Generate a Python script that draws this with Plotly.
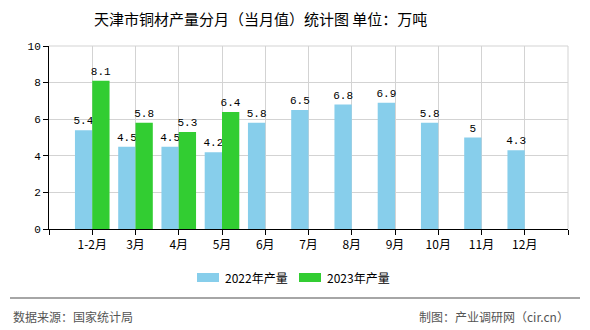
import plotly.graph_objects as go

categories = ["1-2月", "3月", "4月", "5月", "6月", "7月", "8月", "9月", "10月", "11月", "12月"]
values_2022 = [5.4, 4.5, 4.5, 4.2, 5.8, 6.5, 6.8, 6.9, 5.8, 5, 4.3]
values_2023 = [8.1, 5.8, 5.3, 6.4, None, None, None, None, None, None, None]
series_names = ["2022年产量", "2023年产量"]
colors = ["#87CEEB", "#32CD32"]
title_text = "天津市铜材产量分月（当月值）统计图 单位：万吨"
source_text = "数据来源：国家统计局"
credit_text = "制图：产业调研网（cir.cn）"

W, H = 590, 330
L, R, T, B = 49, 22, 46, 101
PW, PH = W - L - R, H - T - B


def px(x):
    return (x - L) / PW


def py(y):
    return (H - B - y) / PH


xs = list(range(len(categories)))
cjk = "Noto Sans CJK SC"
mono = "Liberation Mono, DejaVu Sans Mono, monospace"

fig = go.Figure()
for name, vals, col in zip(series_names, [values_2022, values_2023], colors):
    fig.add_trace(go.Bar(
        x=xs, y=vals, name=name, marker=dict(color=col, line=dict(width=0)),
        text=[("" if v is None else f"{v:g}") for v in vals],
        textposition="outside", constraintext="none", cliponaxis=False,
        textfont=dict(family=mono, size=11, color="#000"),
        showlegend=False,
    ))

fig.update_layout(
    width=W, height=H, margin=dict(l=L, r=R, t=T, b=B),
    paper_bgcolor="white", plot_bgcolor="white",
    barmode="group", bargap=0.2, bargroupgap=0,
    font=dict(family=cjk, size=12, color="#000"),
    xaxis=dict(
        range=[-1, len(categories)], tickmode="array",
        tickvals=list(range(-1, len(categories) + 1)),
        ticktext=[""] + categories + [""],
        showgrid=True, gridcolor="#d3d3d3", gridwidth=1,
        showline=True, linecolor="#000", linewidth=1,
        ticks="outside", ticklen=5, tickcolor="#000",
        tickfont=dict(family=cjk, size=12, color="#000"),
        zeroline=False, fixedrange=True,
    ),
    yaxis=dict(
        range=[0, 10], dtick=2, tick0=0,
        showgrid=True, gridcolor="#d3d3d3", gridwidth=1,
        showline=True, linecolor="#000", linewidth=1,
        ticks="outside", ticklen=5, tickcolor="#000",
        tickfont=dict(family=mono, size=11, color="#000"),
        zeroline=False, fixedrange=True,
    ),
)

shapes = [
    dict(type="line", xref="paper", yref="paper", x0=1, x1=1, y0=0, y1=1,
         line=dict(color="#d3d3d3", width=1)),
    dict(type="line", xref="paper", yref="paper", x0=0, x1=1, y0=1, y1=1,
         line=dict(color="#d3d3d3", width=1)),
    dict(type="line", xref="paper", yref="paper", x0=px(10), x1=px(580), y0=py(298), y1=py(298),
         line=dict(color="#888888", width=1.5)),
]
annotations = [
    dict(text=title_text, xref="paper", yref="paper", x=px(260.5), y=py(18),
         xanchor="center", yanchor="middle", showarrow=False,
         font=dict(family=cjk, size=15, color="#000")),
    dict(text=source_text, xref="paper", yref="paper", x=px(11), y=py(316),
         xanchor="left", yanchor="middle", showarrow=False,
         font=dict(family=cjk, size=12, color="#555")),
    dict(text=credit_text, xref="paper", yref="paper", x=px(571), y=py(316),
         xanchor="right", yanchor="middle", showarrow=False,
         font=dict(family=cjk, size=12, color="#555")),
]
legend_x = [197, 299]
for lx, name, col in zip(legend_x, series_names, colors):
    shapes.append(dict(type="rect", xref="paper", yref="paper",
                       x0=px(lx), x1=px(lx + 22), y0=py(282), y1=py(273),
                       fillcolor=col, line=dict(width=0)))
    annotations.append(dict(text=name, xref="paper", yref="paper", x=px(lx + 26), y=py(277.5),
                            xanchor="left", yanchor="middle", showarrow=False,
                            font=dict(family=cjk, size=12, color="#000")))
fig.update_layout(shapes=shapes, annotations=annotations)

fig.write_html("out.html")
